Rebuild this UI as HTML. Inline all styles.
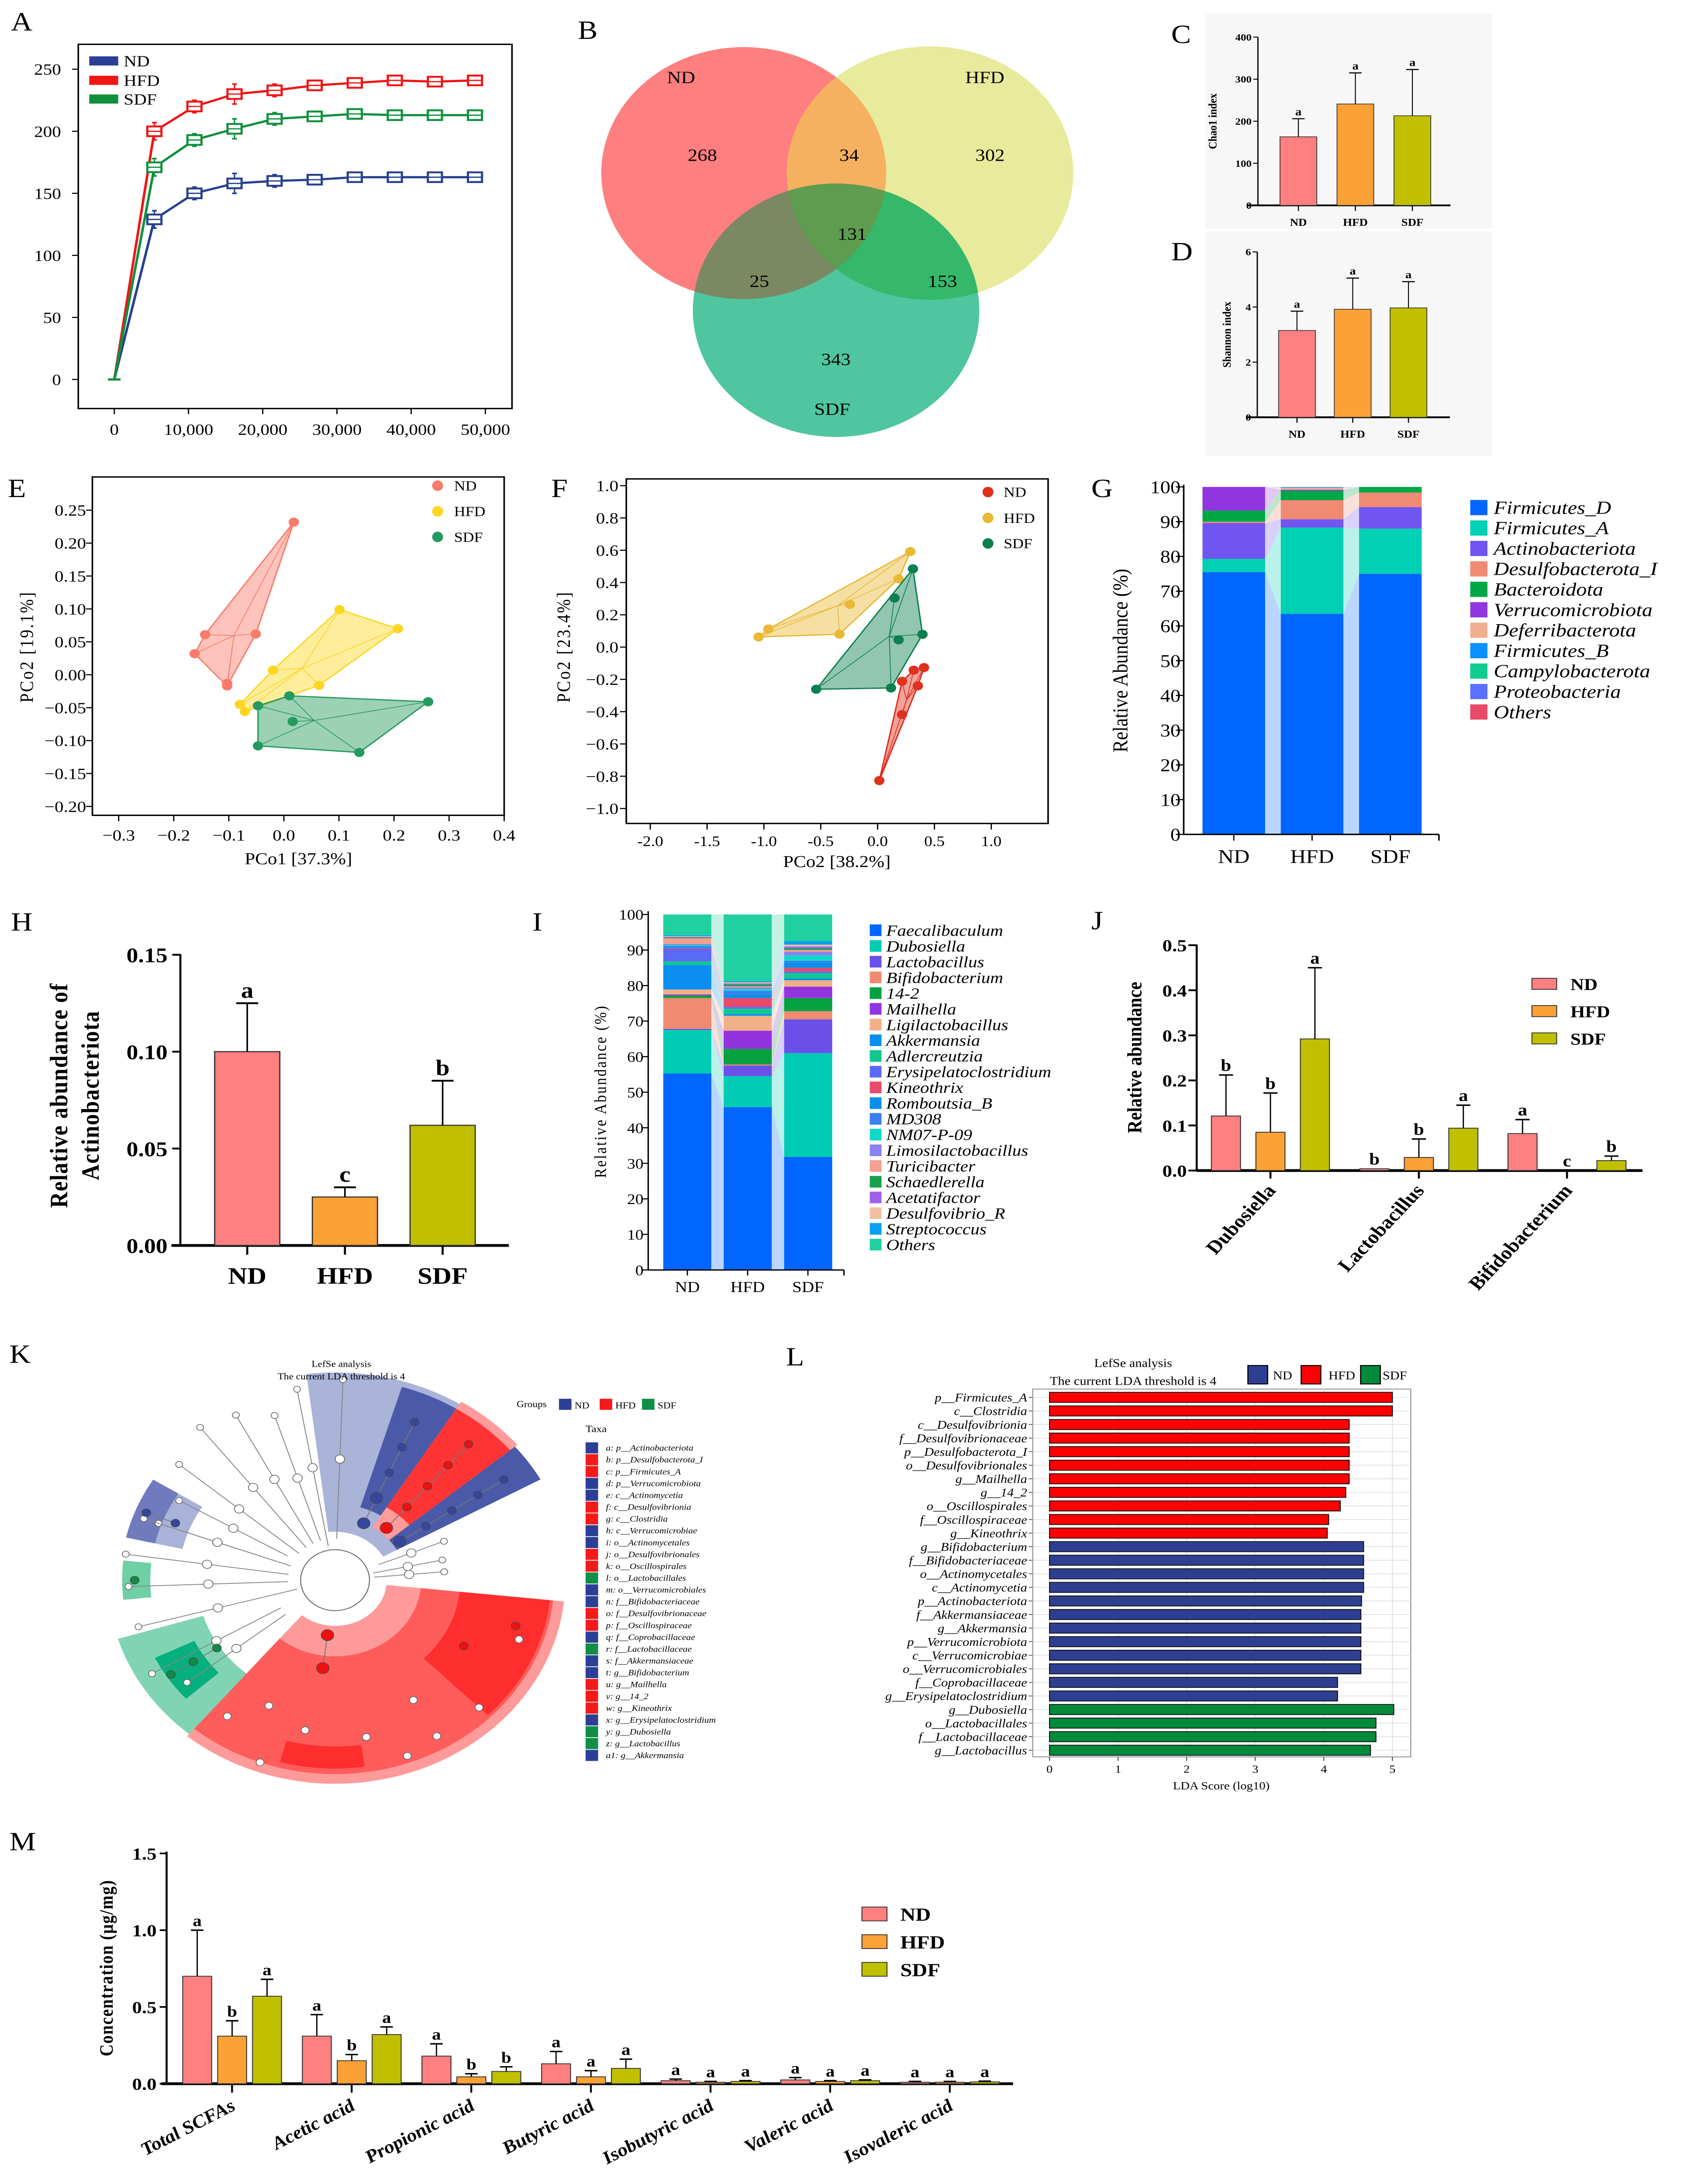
<!DOCTYPE html>
<html><head><meta charset="utf-8"><title>Figure</title>
<style>
html,body{margin:0;padding:0;background:#fff;width:100%;height:100%;overflow:hidden;}
svg{display:block;width:100vw;height:100vh;font-family:"Liberation Serif",serif;}
</style></head>
<body>
<svg id="fig" xmlns="http://www.w3.org/2000/svg" viewBox="0 0 1080 1577" preserveAspectRatio="none">
<rect x="0" y="0" width="1080" height="1577" fill="#fff"/>
<defs>
<clipPath id="cND"><circle cx="475" cy="125" r="91"/></clipPath>
<clipPath id="cHFD"><circle cx="594" cy="125" r="91.5"/></clipPath>
</defs>
</svg>
<script>
// ---------- data ----------
const aX=[0,5400,10800,16200,21600,27000,32400,37800,43200,48600];
const aND=[0,129,150,158,160,161,163,163,163,163];
const aHFD=[0,200,220,230,233,237,239,241,240,241];
const aSDF=[0,171,193,202,210,212,214,213,213,213];
const aSpread=[0,7,5,8,5,4,3,3,3,2];
const aTicksX=[0,10000,20000,30000,40000,50000];
const aTicksY=[0,50,100,150,200,250];

const vennNums=['268','34','302','131','25','153','343'];

const groups=['ND','HFD','SDF'];
const chaoVals=[163,241,213];
const chaoErr=[43,74,110];
const chaoLetters=['a','a','a'];
const chaoTicks=[0,100,200,300,400];
const shanVals=[3.15,3.92,3.97];
const shanErr=[0.7,1.13,0.95];
const shanLetters=['a','a','a'];
const shanTicks=[0,2,4,6];

const eND=[[0.018,0.232],[-0.143,0.061],[-0.051,0.062],[-0.162,0.032],[-0.103,-0.013],[-0.103,-0.017]];
const eHFD=[[0.101,0.099],[0.207,0.07],[-0.02,0.007],[0.064,-0.016],[-0.08,-0.045],[-0.071,-0.056]];
const eSDF=[[0.010,-0.032],[-0.047,-0.047],[0.016,-0.071],[0.262,-0.041],[0.137,-0.118],[-0.047,-0.108]];
const eTicksX=[-0.3,-0.2,-0.1,0.0,0.1,0.2,0.3,0.4];
const eTicksY=[0.25,0.20,0.15,0.10,0.05,0.00,-0.05,-0.10,-0.15,-0.20];

const fND=[[0.015,-0.827],[0.215,-0.418],[0.354,-0.24],[0.215,-0.212],[0.318,-0.143],[0.408,-0.127]];
const fHFD=[[0.288,0.592],[0.185,0.423],[-0.244,0.265],[-0.335,0.08],[-0.961,0.112],[-1.047,0.063]];
const fSDF=[[0.311,0.485],[0.149,0.304],[0.395,0.079],[0.185,0.045],[0.118,-0.253],[-0.54,-0.261]];
const fTicksX=[-2.0,-1.5,-1.0,-0.5,0.0,0.5,1.0];
const fTicksY=[1.0,0.8,0.6,0.4,0.2,0.0,-0.2,-0.4,-0.6,-0.8,-1.0];

const gTaxa=['Firmicutes_D','Firmicutes_A','Actinobacteriota','Desulfobacterota_I','Bacteroidota','Verrucomicrobiota','Deferribacterota','Firmicutes_B','Campylobacterota','Proteobacteria','Others'];
const gND=[75.5,3.8,10.3,0.4,3.2,6.8,0,0,0,0,0];
const gHFD=[63.5,24.8,2.4,5.5,2.7,0.3,0.5,0.1,0.1,0.05,0.05];
const gSDF=[75,13,6.2,4.2,1.6,0,0,0,0,0,0];
const gTicks=[0,10,20,30,40,50,60,70,80,90,100];

const hVals=[0.10,0.025,0.062];
const hErr=[0.025,0.005,0.023];
const hLetters=['a','c','b'];
const hTicks=[0,0.05,0.10,0.15];
const hTickLabels=['0.00','0.05','0.10','0.15'];

const iTaxa=['Faecalibaculum','Dubosiella','Lactobacillus','Bifidobacterium','14-2','Mailhella','Ligilactobacillus','Akkermansia','Adlercreutzia','Erysipelatoclostridium','Kineothrix','Romboutsia_B','MD308','NM07-P-09','Limosilactobacillus','Turicibacter','Schaedlerella','Acetatifactor','Desulfovibrio_R','Streptococcus','Others'];
const iND=[55.3,12.2,0.3,8.7,0.7,0.3,1.4,6.9,1.0,3.5,0.2,0.3,0.3,0.3,0.3,1.6,0.2,0.2,0.2,0.3,5.8];
const iHFD=[45.8,8.7,3.0,0.3,4.4,5.1,4.2,0.5,1.5,0.5,2.5,1.0,1.0,0.5,0.5,0.3,0.5,0.3,0.3,0.3,18.8];
const iSDF=[31.8,29.2,9.5,2.3,3.7,3.2,1.8,0.5,1.5,0.5,1.0,1.5,0.5,1.5,1.0,0.5,0.5,0.5,0.5,1.0,7.5];
const iTicks=[0,10,20,30,40,50,60,70,80,90,100];

const jCats=['Dubosiella','Lactobacillus','Bifidobacterium'];
const jND=[0.121,0.004,0.082];
const jHFD=[0.085,0.029,0.0];
const jSDF=[0.292,0.094,0.022];
const jErrND=[0.091,0,0.031];
const jErrHFD=[0.087,0.041,0];
const jErrSDF=[0.158,0.051,0.01];
const jLetND=['b','b','a'];
const jLetHFD=['b','b','c'];
const jLetSDF=['a','a','b'];
const jTicks=[0,0.1,0.2,0.3,0.4,0.5];

const kTaxa=['a: p__Actinobacteriota','b: p__Desulfobacterota_I','c: p__Firmicutes_A','d: p__Verrucomicrobiota','e: c__Actinomycetia','f: c__Desulfovibrionia','g: c__Clostridia','h: c__Verrucomicrobiae','i: o__Actinomycetales','j: o__Desulfovibrionales','k: o__Oscillospirales','l: o__Lactobacillales','m: o__Verrucomicrobiales','n: f__Bifidobacteriaceae','o: f__Desulfovibrionaceae','p: f__Oscillospiraceae','q: f__Coprobacillaceae','r: f__Lactobacillaceae','s: f__Akkermansiaceae','t: g__Bifidobacterium','u: g__Mailhella','v: g__14_2','w: g__Kineothrix','x: g__Erysipelatoclostridium','y: g__Dubosiella','z: g__Lactobacillus','a1: g__Akkermansia'];
const kGroup=[0,1,1,0,0,1,1,0,0,1,1,2,0,0,1,1,0,2,0,0,1,1,1,0,2,2,0];

const lLabels=['p__Firmicutes_A','c__Clostridia','c__Desulfovibrionia','f__Desulfovibrionaceae','p__Desulfobacterota_I','o__Desulfovibrionales','g__Mailhella','g__14_2','o__Oscillospirales','f__Oscillospiraceae','g__Kineothrix','g__Bifidobacterium','f__Bifidobacteriaceae','o__Actinomycetales','c__Actinomycetia','p__Actinobacteriota','f__Akkermansiaceae','g__Akkermansia','p__Verrucomicrobiota','c__Verrucomicrobiae','o__Verrucomicrobiales','f__Coprobacillaceae','g__Erysipelatoclostridium','g__Dubosiella','o__Lactobacillales','f__Lactobacillaceae','g__Lactobacillus'];
const lScores=[5.0,5.0,4.37,4.37,4.37,4.37,4.37,4.32,4.24,4.07,4.05,4.58,4.58,4.58,4.58,4.55,4.54,4.54,4.54,4.54,4.54,4.2,4.2,5.02,4.76,4.76,4.68];
const lGroup=[1,1,1,1,1,1,1,1,1,1,1,0,0,0,0,0,0,0,0,0,0,0,0,2,2,2,2];
const lTicks=[0,1,2,3,4,5];

const mCats=['Total SCFAs','Acetic acid','Propionic acid','Butyric acid','Isobutyric acid','Valeric acid','Isovaleric acid'];
const mND=[0.70,0.31,0.18,0.13,0.02,0.025,0.01];
const mHFD=[0.31,0.15,0.045,0.045,0.01,0.015,0.01];
const mSDF=[0.57,0.32,0.08,0.10,0.015,0.02,0.012];
const mErrND=[0.30,0.14,0.08,0.08,0.01,0.015,0.005];
const mErrHFD=[0.10,0.04,0.02,0.04,0.005,0.005,0.005];
const mErrSDF=[0.11,0.05,0.03,0.06,0.005,0.005,0.005];
const mLetND=['a','a','a','a','a','a','a'];
const mLetHFD=['b','b','b','a','a','a','a'];
const mLetSDF=['a','a','b','a','a','a','a'];
const mTicks=[0,0.5,1.0,1.5];
const mTickLabels=['0.0','0.5','1.0','1.5'];

// ---------- helpers ----------
const NS='http://www.w3.org/2000/svg';
const svg=document.getElementById('fig');
function mk(tag,attrs,name,parent){
  const el=document.createElementNS(NS,tag);
  for(const k in attrs) el.setAttribute(k,attrs[k]);
  
  
  (parent||svg).appendChild(el);
  return el;
}
function txt(x,y,s,size,opts,name,parent){
  const o=Object.assign({x:x,y:y,'font-size':size},opts||{});
  const t=mk('text',o,name,parent);
  t.textContent=s;
  return t;
}
function line(x1,y1,x2,y2,stroke,w,name,parent){
  return mk('line',{x1,y1,x2,y2,stroke:stroke,'stroke-width':w},name,parent);
}
function errBar(x,yTop,yVal,cap,name,w){
  line(x,yVal,x,yTop,'#000',w||0.8,name);
  line(x-cap,yTop,x+cap,yTop,'#000',(w||0.8)*1.3,name+'-cap');
}
function panelLetter(x,y,s,size){txt(x,y,s,size||19,{},'panel-label-'+s.toLowerCase());}
const barCols=['#fe8080','#fca135','#c0c000'];

// ---------- Panel A ----------
panelLetter(7,22,'A');
(function(){
  const ax=v=>73+v*(310-73)/50000, ay=v=>274-v*0.896;
  mk('rect',{x:50,y:32,width:277,height:263,fill:'none',stroke:'#000','stroke-width':1},'rarefaction-frame');
  aTicksX.forEach(t=>{line(ax(t),295,ax(t),299,'#000',0.8,'x-tick');
    txt(ax(t),314,t===0?'0':t.toLocaleString('en-US'),11.5,{'text-anchor':'middle'},'x-tick-label');});
  aTicksY.forEach(t=>{line(46,ay(t),50,ay(t),'#000',0.8,'y-tick');
    txt(39,ay(t)+4,String(t),11.5,{'text-anchor':'end'},'y-tick-label');});
  const series=[[aND,'#27408f','nd'],[aHFD,'#f01515','hfd'],[aSDF,'#10903c','sdf']];
  series.forEach(([vals,col,nm])=>{
    const pts=aX.map((x,i)=>ax(x)+','+ay(vals[i])).join(' ');
    mk('polyline',{points:pts,fill:'none',stroke:col,'stroke-width':1.6},'rarefaction-line-'+nm);
    aX.forEach((x,i)=>{ if(i===0){line(ax(x)-4,ay(0),ax(x)+4,ay(0),col,1.5,'start-mark-'+nm);return;}
      const cx=ax(x), cy=ay(vals[i]), s=aSpread[i];
      line(cx,cy-s*0.896,cx,cy+s*0.896,col,0.9,'whisker-'+nm);
      line(cx-1.5,cy-s*0.896,cx+1.5,cy-s*0.896,col,1.2,'whisker-cap-'+nm);
      line(cx-1.5,cy+s*0.896,cx+1.5,cy+s*0.896,col,1.2,'whisker-cap-'+nm);
      mk('rect',{x:cx-4.5,y:cy-3.5,width:9,height:7,fill:'#fff',stroke:col,'stroke-width':1.4},'box-'+nm);
      line(cx-4.5,cy,cx+4.5,cy,col,0.9,'median-'+nm);
    });
  });
  [['ND','#2a3f95',44],['HFD','#f01515',58],['SDF','#10903c',71.5]].forEach(([n,c,y])=>{
    mk('rect',{x:57,y:y-3.3,width:18.5,height:6.6,fill:c},'legend-swatch-'+n.toLowerCase());
    txt(79,y+4,n,11.5,{},'legend-label-'+n.toLowerCase());
  });
})();

// ---------- Panel B (Venn) ----------
panelLetter(369,28,'B');
(function(){
  mk('circle',{cx:475,cy:125,r:91,fill:'#fe7f7f'},'venn-nd');
  mk('circle',{cx:594,cy:125,r:91.5,fill:'#e8ea9c'},'venn-hfd');
  mk('circle',{cx:534,cy:224,r:91.5,fill:'#4fc6a0'},'venn-sdf');
  const g1=mk('g',{'clip-path':'url(#cND)'},'venn-nd-hfd');
  mk('circle',{cx:594,cy:125,r:91.5,fill:'#f5b060'},'venn-nd-hfd-region',g1);
  const g2=mk('g',{'clip-path':'url(#cND)'},'venn-nd-sdf');
  mk('circle',{cx:534,cy:224,r:91.5,fill:'#7b8862'},'venn-nd-sdf-region',g2);
  const g3=mk('g',{'clip-path':'url(#cHFD)'},'venn-hfd-sdf');
  mk('circle',{cx:534,cy:224,r:91.5,fill:'#35b86a'},'venn-hfd-sdf-region',g3);
  const g4=mk('g',{'clip-path':'url(#cND)'},'venn-all');
  const g5=mk('g',{'clip-path':'url(#cHFD)'},'venn-all-inner',g4);
  mk('circle',{cx:534,cy:224,r:91.5,fill:'#5e9c50'},'venn-all-region',g5);
  txt(435,60,'ND',12.5,{'text-anchor':'middle'},'venn-label-nd');
  txt(629,60,'HFD',12.5,{'text-anchor':'middle'},'venn-label-hfd');
  txt(531.5,299.5,'SDF',12.5,{'text-anchor':'middle'},'venn-label-sdf');
  const pos=[[448.6,116],[542.3,116],[632.3,116],[544.2,173],[485,207],[601.9,207],[533.9,263.5]];
  vennNums.forEach((n,i)=>txt(pos[i][0],pos[i][1],n,12.5,{'text-anchor':'middle'},'venn-count'));
})();

// ---------- Panels C & D ----------
function smallBar(letter,bg,axX,y0,yTop,maxV,ticks,vals,errs,lets,title,b0,bstep,titleX,labY){
  mk('rect',{x:bg[0],y:bg[1],width:bg[2],height:bg[3],fill:'#f7f7f7'},'panel-'+letter.toLowerCase()+'-bg');
  panelLetter(748,bg[1]+21,letter);
  const sy=v=>y0-v*(y0-yTop)/maxV;
  line(axX,yTop,axX,y0,'#000',0.8,'y-axis');
  line(axX-7,y0,axX+123,y0,'#000',1.3,'x-axis');
  ticks.forEach(t=>{line(axX-3,sy(t),axX,sy(t),'#000',0.7,'y-tick');
    txt(axX-4,sy(t)+2.5,String(t),7,{'text-anchor':'end','font-weight':'bold'},'y-tick-label');});
  vals.forEach((v,i)=>{const x=b0+i*bstep;
    mk('rect',{x:x,y:sy(v),width:23.5,height:y0-sy(v),fill:barCols[i],stroke:'#333','stroke-width':0.5},'bar-'+groups[i].toLowerCase());
    errBar(x+11.75,sy(v+errs[i]),sy(v),4,'error-bar',0.6);
    txt(x+11.75,sy(v+errs[i])-2.5,lets[i],8,{'text-anchor':'middle','font-weight':'bold'},'significance-letter');
    line(x+11.75,y0,x+11.75,y0+4,'#000',0.7,'x-tick');
    txt(x+11.75,labY,groups[i],7.5,{'text-anchor':'middle','font-weight':'bold'},'x-label-'+groups[i].toLowerCase());
  });
  txt(0,0,title,7.5,{'text-anchor':'middle','font-weight':'bold',transform:`translate(${titleX},${(y0+yTop)/2}) rotate(-90)`},'y-axis-title');
}
smallBar('C',[770,10,183,155],803.4,148.3,26.8,400,chaoTicks,chaoVals,chaoErr,chaoLetters,'Chao1 index',817.5,36.4,777,163);
smallBar('D',[770,167,183,162],803,301.3,181.9,6,shanTicks,shanVals,shanErr,shanLetters,'Shannon index',816.6,35.6,786,316);

// ---------- PCoA helper ----------
function hull(pts){
  const p=pts.slice().sort((a,b)=>a[0]-b[0]||a[1]-b[1]);
  const cr=(o,a,b)=>(a[0]-o[0])*(b[1]-o[1])-(a[1]-o[1])*(b[0]-o[0]);
  const lo=[],up=[];
  p.forEach(q=>{while(lo.length>=2&&cr(lo[lo.length-2],lo[lo.length-1],q)<=0)lo.pop();lo.push(q);});
  p.slice().reverse().forEach(q=>{while(up.length>=2&&cr(up[up.length-2],up[up.length-1],q)<=0)up.pop();up.push(q);});
  return lo.slice(0,-1).concat(up.slice(0,-1));
}
function pcoaGroup(data,sx,sy,col,nm){
  const px=data.map(d=>[sx(d[0]),sy(d[1])]);
  const h=hull(px);
  mk('polygon',{points:h.map(p=>p.join(',')).join(' '),fill:col,'fill-opacity':0.45,stroke:col,'stroke-width':0.9},'hull-'+nm);
  const cx=px.reduce((s,p)=>s+p[0],0)/px.length, cy=px.reduce((s,p)=>s+p[1],0)/px.length;
  px.forEach(p=>line(cx,cy,p[0],p[1],col,0.5,'spider-'+nm));
  px.forEach(p=>mk('circle',{cx:p[0],cy:p[1],r:3.3,fill:col},'point-'+nm));
}
function fmt(t,d){const s=Math.abs(t).toFixed(d);return (t<-1e-9?'\u2212':'')+s;}

// ---------- Panel E ----------
panelLetter(5,359,'E');
(function(){
  const sx=v=>75.8+(v+0.3)*351.7, sy=v=>368.4+(0.25-v)*475.3;
  mk('rect',{x:59,y:344.4,width:263,height:244.3,fill:'none',stroke:'#000','stroke-width':1},'pcoa-e-frame');
  eTicksX.forEach(t=>{line(sx(t),588.7,sx(t),593,'#000',0.8,'x-tick');
    txt(sx(t),607,fmt(t,1),11.5,{'text-anchor':'middle'},'x-tick-label');});
  eTicksY.forEach(t=>{line(55,sy(t),59,sy(t),'#000',0.8,'y-tick');
    txt(55,sy(t)+4,fmt(t,2),11.5,{'text-anchor':'end'},'y-tick-label');});
  pcoaGroup(eND,sx,sy,'#fa7b6b','nd');
  pcoaGroup(eHFD,sx,sy,'#fcd620','hfd');
  pcoaGroup(eSDF,sx,sy,'#249a5e','sdf');
  txt(190.6,624,'PCo1 [37.3%]',12,{'text-anchor':'middle'},'x-axis-title');
  txt(0,0,'PCo2 [19.1%]',12,{'text-anchor':'middle','letter-spacing':'1',transform:'translate(21,467) rotate(-90)'},'y-axis-title');
  [['ND','#fa7b6b',350.7],['HFD','#fcd620',369.2],['SDF','#249a5e',387.7]].forEach(([n,c,y])=>{
    mk('ellipse',{cx:279.5,cy:y,rx:3.5,ry:3.8,fill:c},'legend-dot-'+n.toLowerCase());
    txt(290,y+3.5,n,10,{},'legend-label-'+n.toLowerCase());});
})();

// ---------- Panel F ----------
panelLetter(352,359,'F');
(function(){
  const sx=v=>415.3+(v+2)*72.6, sy=v=>350.7+(1-v)*116.55;
  mk('rect',{x:400,y:345.8,width:269.4,height:248.8,fill:'none',stroke:'#000','stroke-width':1},'pcoa-f-frame');
  fTicksX.forEach(t=>{line(sx(t),594.6,sx(t),599,'#000',0.8,'x-tick');
    txt(sx(t),611,t.toFixed(1),10.5,{'text-anchor':'middle'},'x-tick-label');});
  fTicksY.forEach(t=>{line(396,sy(t),400,sy(t),'#000',0.8,'y-tick');
    txt(395,sy(t)+4,fmt(t,1),11.5,{'text-anchor':'end'},'y-tick-label');});
  pcoaGroup(fHFD,sx,sy,'#e9b834','hfd');
  pcoaGroup(fSDF,sx,sy,'#0d8050','sdf');
  pcoaGroup(fND,sx,sy,'#e0301e','nd');
  txt(534.5,626,'PCo2 [38.2%]',12,{'text-anchor':'middle'},'x-axis-title');
  txt(0,0,'PCo2 [23.4%]',12,{'text-anchor':'middle','letter-spacing':'1',transform:'translate(364,467) rotate(-90)'},'y-axis-title');
  [['ND','#e0301e',355.3],['HFD','#e9b834',374],['SDF','#0d8050',392.4]].forEach(([n,c,y])=>{
    mk('ellipse',{cx:631,cy:y,rx:3.5,ry:3.8,fill:c},'legend-dot-'+n.toLowerCase());
    txt(641,y+3.5,n,10,{},'legend-label-'+n.toLowerCase());});
})();

// ---------- stacked helper ----------
function stacked(series,cols,xs,bw,y0,y100,nm){
  const sy=v=>y0-v*(y0-y100)/100;
  const cum=series.map(s=>{let c=0;return s.map(v=>{const r=[c,c+v];c+=v;return r;});});
  for(let b=0;b<series.length-1;b++){
    cols.forEach((col,k)=>{
      const a=cum[b][k], c=cum[b+1][k];
      const x1=xs[b]+bw, x2=xs[b+1];
      mk('polygon',{points:`${x1},${sy(a[0])} ${x1},${sy(a[1])} ${x2},${sy(c[1])} ${x2},${sy(c[0])}`,fill:col,'fill-opacity':0.27},nm+'-flow');
    });
  }
  series.forEach((s,b)=>{cols.forEach((col,k)=>{
    const c=cum[b][k]; if(c[1]-c[0]<=0)return;
    mk('rect',{x:xs[b],y:sy(c[1]),width:bw,height:sy(c[0])-sy(c[1]),fill:col},nm+'-segment');
  });});
  return sy;
}

// ---------- Panel G ----------
panelLetter(697,359,'G');
(function(){
  const cols=['#0066ff','#00d0b4','#7055f0','#f08a72','#00a845','#9035e0','#f0b090','#0a90ff','#10cc90','#5a70ff','#e84a6a'];
  const sy=stacked([gND,gHFD,gSDF],cols,[768,818,868],40,602.5,351.6,'phylum');
  line(756,350,756,602.5,'#000',1,'y-axis');
  line(756,602.5,919,602.5,'#000',1,'x-axis');
  line(919,602.5,919,607,'#000',1,'x-axis-end');
  gTicks.forEach(t=>{line(751,sy(t),756,sy(t),'#000',0.8,'y-tick');
    txt(754,sy(t)+4.5,String(t),13,{'text-anchor':'end'},'y-tick-label');});
  groups.forEach((g,i)=>{line(788+i*50,602.5,788+i*50,607,'#000',0.8,'x-tick');
    txt(788+i*50,623,g,14,{'text-anchor':'middle'},'x-label-'+g.toLowerCase());});
  txt(0,0,'Relative Abundance (%)',13.5,{'text-anchor':'middle',transform:'translate(720,477) rotate(-90)'},'y-axis-title');
  gTaxa.forEach((t,i)=>{const y=366.5+i*14.76;
    mk('rect',{x:939,y:y-5.5,width:11,height:11,fill:cols[i]},'legend-swatch');
    txt(954,y+4.5,t,13.5,{'font-style':'italic'},'legend-label');});
})();

// ---------- Panel H ----------
panelLetter(7,672,'H');
(function(){
  const y0=899.3, sy=v=>y0-v*(899.3-689.4)/0.15;
  line(115.2,689,115.2,899.3,'#000',1.3,'y-axis');
  line(109.5,899.3,325,899.3,'#000',2,'x-axis');
  hTicks.forEach((t,i)=>{line(110,sy(t),115.2,sy(t),'#000',1.3,'y-tick');
    txt(107,sy(t)+5.5,hTickLabels[i],15,{'text-anchor':'end','font-weight':'bold'},'y-tick-label');});
  hVals.forEach((v,i)=>{const x=137.1+i*62.4;
    mk('rect',{x:x,y:sy(v),width:41.6,height:y0-sy(v),fill:barCols[i],stroke:'#333','stroke-width':0.8},'bar-'+groups[i].toLowerCase());
    errBar(x+20.8,sy(v+hErr[i]),sy(v),7,'error-bar',1);
    txt(x+20.8,sy(v+hErr[i])-4,hLetters[i],16,{'text-anchor':'middle','font-weight':'bold'},'significance-letter');
    line(x+20.8,899.3,x+20.8,906,'#000',1.3,'x-tick');
    txt(x+20.8,927,groups[i],17,{'text-anchor':'middle','font-weight':'bold'},'x-label-'+groups[i].toLowerCase());
  });
  txt(0,0,'Relative abundance of',16,{'text-anchor':'middle','font-weight':'bold','letter-spacing':'0.5',transform:'translate(43,791) rotate(-90)'},'y-axis-title-line1');
  txt(0,0,'Actinobacteriota',16,{'text-anchor':'middle','font-weight':'bold','letter-spacing':'0.5',transform:'translate(63,791) rotate(-90)'},'y-axis-title-line2');
})();

// ---------- Panel I ----------
panelLetter(340,672,'I');
(function(){
  const cols=['#0066ff','#00ccb4','#6a50e8','#f08a70','#05a040','#9333e0','#f2b088','#0a8ff0','#10c890','#5a6af5','#e84a6a','#0a90e8','#3a80f0','#10d8c8','#8a80f0','#f5a090','#18a050','#a060e8','#f0c0a0','#0aa0f0','#20d0a0'];
  const sy=stacked([iND,iHFD,iSDF],cols,[423.6,462.2,500.8],30.7,917,660.3,'genus');
  line(414,658,414,917,'#000',0.9,'y-axis');
  line(414,917,539,917,'#000',0.9,'x-axis');
  line(539,917,539,921,'#000',0.9,'x-axis-end');
  iTicks.forEach(t=>{line(410,sy(t),414,sy(t),'#000',0.8,'y-tick');
    txt(411,sy(t)+3.8,String(t),10.5,{'text-anchor':'end'},'y-tick-label');});
  groups.forEach((g,i)=>{const cx=[439,477.5,516][i];
    line(cx,917,cx,921,'#000',0.8,'x-tick');
    txt(cx,933,g,11,{'text-anchor':'middle'},'x-label-'+g.toLowerCase());});
  txt(0,0,'Relative Abundance (%)',10.5,{'text-anchor':'middle','letter-spacing':'1',transform:'translate(387,788) rotate(-90)'},'y-axis-title');
  iTaxa.forEach((t,i)=>{const y=671.7+i*11.35;
    mk('rect',{x:555.5,y:y-4.2,width:7.5,height:8.4,fill:cols[i]},'legend-swatch');
    txt(566,y+4,t,11.5,{'font-style':'italic'},'legend-label');});
})();

// ---------- Panel J ----------
panelLetter(697,671,'J');
(function(){
  const y0=845.2, sy=v=>y0-v*(845.2-682.5)/0.5;
  line(764.3,682,764.3,845.2,'#000',1.3,'y-axis');
  line(764.3,845.2,1049,845.2,'#000',2,'x-axis');
  jTicks.forEach(t=>{line(759,sy(t),764.3,sy(t),'#000',1.3,'y-tick');
    txt(758,sy(t)+4.5,t===0?'0.0':String(t),12.5,{'text-anchor':'end','font-weight':'bold'},'y-tick-label');});
  const sets=[[jND,jErrND,jLetND],[jHFD,jErrHFD,jLetHFD],[jSDF,jErrSDF,jLetSDF]];
  const gx=[773.7,868.5,963.1];
  jCats.forEach((c,ci)=>{
    sets.forEach(([vals,errs,lets],gi)=>{
      const x=gx[ci]+gi*28.4, v=vals[ci];
      if(v>0) mk('rect',{x:x,y:sy(v),width:18.6,height:y0-sy(v),fill:barCols[gi],stroke:'#333','stroke-width':0.6},'bar-'+groups[gi].toLowerCase());
      if(errs[ci]>0) errBar(x+9.3,sy(v+errs[ci]),sy(v),4.5,'error-bar',0.8);
      txt(x+9.3,sy(v+errs[ci])-3,lets[ci],12,{'text-anchor':'middle','font-weight':'bold'},'significance-letter');
    });
    const cx=gx[ci]+37.7;
    line(cx,845.2,cx,851,'#000',1.3,'x-tick');
    txt(0,0,c,13.5,{'text-anchor':'end','font-weight':'bold',transform:`translate(${cx+4},${860}) rotate(-50)`},'x-label');
  });
  txt(0,0,'Relative abundance',13,{'text-anchor':'middle','font-weight':'bold',transform:'translate(729,763.6) rotate(-90)'},'y-axis-title');
  [['ND',710.4],['HFD',730.1],['SDF',749.8]].forEach(([n,y],i)=>{
    mk('rect',{x:978.4,y:y-4,width:15.8,height:8,fill:barCols[i],stroke:'#333','stroke-width':0.6},'legend-swatch-'+n.toLowerCase());
    txt(1003,y+4.5,n,12,{'font-weight':'bold'},'legend-label-'+n.toLowerCase());});
})();

// ---------- Panel K (cladogram) ----------
panelLetter(6,984,'K');
(function(){
  const cx=214, cy=1141;
  function sector(r0,r1,a0,a1,fill,nm){
    const rad=a=>a*Math.PI/180;
    const p=(r,a)=>[cx+r*Math.cos(rad(a)),cy+r*Math.sin(rad(a))];
    const [x1,y1]=p(r1,a0),[x2,y2]=p(r1,a1),[x3,y3]=p(r0,a1),[x4,y4]=p(r0,a0);
    const lg=(a1-a0)>180?1:0;
    mk('path',{d:`M${x1},${y1} A${r1},${r1} 0 ${lg} 1 ${x2},${y2} L${x3},${y3} A${r0},${r0} 0 ${lg} 0 ${x4},${y4} Z`,fill:fill},nm);
  }
  sector(35,150,-97,-29,'#aab3d8','clade-nd-sector');
  sector(55,146,-73,-58,'#4b5aa8','clade-bifido-strip');
  sector(45,152,-58,-40,'#ff9b9b','clade-desulfo-light');
  sector(62,146,-58,-40,'#ff3535','clade-desulfo-strip');
  sector(45,150,-40,-29,'#4b5aa8','clade-verruco-strip');
  sector(33,147,6,130,'#ff9a9a','clade-hfd-outer');
  sector(55,140,6,130,'#ff5c5c','clade-hfd-main');
  sector(80,138,6,45,'#ff2e2e','clade-oscillo');
  sector(120,136,82,105,'#ff2e2e','clade-kineothrix');
  sector(88,145,130,163,'#80d4b3','clade-sdf-sector');
  sector(100,128,138,154,'#05b07e','clade-lacto');
  sector(118,136,174,186,'#6fcfa5','clade-dubosiella');
  sector(100,137,193,212,'#a9b2d9','clade-copro');
  sector(118,137,193,212,'#6f7bbd','clade-erysipelato');
  mk('circle',{cx:cx,cy:cy,r:22,fill:'#fff',stroke:'#777','stroke-width':0.7},'clade-root');
  const branches=[[-160,40,120],[-150,35,115],[-140,30,130],[-128,30,140],[-118,30,135],[-108,30,125],[-100,25,140],[-88,30,145],[-22,30,75],[-12,25,70],[-5,25,70],[165,25,130],[178,30,132],[188,30,135],[200,30,130],[150,40,135],[142,40,120]];
  branches.forEach(([a,r0,r1])=>{const ra=a*Math.PI/180;
    line(cx+r0*Math.cos(ra),cy+r0*Math.sin(ra),cx+r1*Math.cos(ra),cy+r1*Math.sin(ra),'#888',0.6,'clade-branch');
    mk('circle',{cx:cx+r1*Math.cos(ra),cy:cy+r1*Math.sin(ra),r:2.2,fill:'#fff',stroke:'#666','stroke-width':0.5},'clade-node');
    mk('circle',{cx:cx+(r0+r1)/2*Math.cos(ra),cy:cy+(r0+r1)/2*Math.sin(ra),r:3,fill:'#fff',stroke:'#666','stroke-width':0.5},'clade-node');
  });
  const colNodes=[[-66,[45,65,85,105,125],'#34479c'],[-49,[50,70,90,110,130],'#ee1111'],[-34,[50,70,90,110,130],'#34479c'],[97,[40,64],'#ee1111'],[30,[95],'#ee1111'],[16,[120],'#ee1111'],[147,[90,108,125],'#138a45'],[180,[128],'#138a45'],[202,[110,130],'#34479c']];
  colNodes.forEach(([a,rs,c])=>{const ra=a*Math.PI/180;
    line(cx+rs[0]*Math.cos(ra),cy+rs[0]*Math.sin(ra),cx+rs[rs.length-1]*Math.cos(ra),cy+rs[rs.length-1]*Math.sin(ra),'#777',0.6,'clade-branch');
    rs.forEach(r=>mk('circle',{cx:cx+r*Math.cos(ra),cy:cy+r*Math.sin(ra),r:r<70?4:2.8,fill:c,stroke:'#444','stroke-width':0.4},'clade-node-colored'));
  });
  [[100,110],[110,140],[60,130],[125,120],[80,115],[115,100],[60,100],[45,130],[20,125],[70,135]].forEach(([a,r])=>{const ra=a*Math.PI/180;
    mk('circle',{cx:cx+r*Math.cos(ra),cy:cy+r*Math.sin(ra),r:2.5,fill:'#fff',stroke:'#666','stroke-width':0.5},'clade-node');});
  txt(218,987,'LefSe analysis',6.5,{'text-anchor':'middle'},'cladogram-title');
  txt(218,996,'The current LDA threshold is 4',6.5,{'text-anchor':'middle'},'cladogram-subtitle');
  txt(330,1016,'Groups',6.5,{},'groups-legend-title');
  const gcol=['#2b3f96','#f41a1a','#0f8f45'];
  [['ND',357],['HFD',383],['SDF',410]].forEach(([n,x],i)=>{
    mk('rect',{x:x,y:1010,width:8,height:8,fill:gcol[i]},'groups-swatch-'+n.toLowerCase());
    txt(x+10,1017,n,6.5,{},'groups-label-'+n.toLowerCase());});
  txt(374,1034,'Taxa',7,{},'taxa-legend-title');
  kTaxa.forEach((t,i)=>{const y=1045+i*8.54;
    mk('rect',{x:374,y:y-3.5,width:8,height:8,fill:gcol[kGroup[i]]},'taxa-swatch');
    txt(387,y+2.5,t,6,{'font-style':'italic'},'taxa-label');});
})();

// ---------- Panel L ----------
panelLetter(502,986,'L');
(function(){
  const x0=670.3, sx=v=>x0+v*43.8, top=1009, step=9.8;
  const gcol=['#2e3f92','#ff0000','#008a3a'];
  mk('rect',{x:659.6,y:1003,width:241.4,height:265.6,fill:'#fff',stroke:'#999','stroke-width':0.7},'lda-frame');
  lTicks.forEach(t=>line(sx(t),1003,sx(t),1268.6,'#ddd',0.5,'lda-vgrid'));
  lLabels.forEach((l,i)=>{const y=top+i*step;
    line(659.6,y,901,y,'#ddd',0.5,'lda-gridline');
    mk('rect',{x:x0,y:y-3.65,width:sx(lScores[i])-x0,height:7.3,fill:gcol[lGroup[i]],stroke:'#111','stroke-width':0.6},'lda-bar');
    line(657,y,659.6,y,'#444',0.5,'lda-label-tick');
    txt(656,y+3,l,8.5,{'text-anchor':'end','font-style':'italic'},'lda-label');
  });
  lTicks.forEach(t=>{line(sx(t),1268.6,sx(t),1271.5,'#444',0.6,'x-tick');
    txt(sx(t),1280,String(t),8,{'text-anchor':'middle'},'x-tick-label');});
  txt(780,1292,'LDA Score (log10)',8,{'text-anchor':'middle'},'x-axis-title');
  txt(723.7,987,'LefSe analysis',8.5,{'text-anchor':'middle'},'lda-title');
  txt(723.7,1000,'The current LDA threshold is 4',8.5,{'text-anchor':'middle'},'lda-subtitle');
  [['ND',797,813],['HFD',831,848.5],['SDF',869,883]].forEach(([n,x,tx],i)=>{
    mk('rect',{x:x,y:986,width:12.6,height:13.3,fill:gcol[i],stroke:'#000','stroke-width':0.7},'lda-legend-swatch-'+n.toLowerCase());
    txt(tx,996,n,8.5,{},'lda-legend-label-'+n.toLowerCase());});
})();

// ---------- Panel M ----------
panelLetter(6,1336,'M');
(function(){
  const y0=1504.6, sy=v=>y0-v*(1504.6-1338.3)/1.5;
  line(106.4,1337,106.4,1504.6,'#000',1.3,'y-axis');
  line(103,1504.6,647,1504.6,'#000',2,'x-axis');
  mTicks.forEach((t,i)=>{line(102,sy(t),106.4,sy(t),'#000',1.2,'y-tick');
    txt(100,sy(t)+4.5,mTickLabels[i],12.5,{'text-anchor':'end','font-weight':'bold'},'y-tick-label');});
  const sets=[[mND,mErrND,mLetND],[mHFD,mErrHFD,mLetHFD],[mSDF,mErrSDF,mLetSDF]];
  mCats.forEach((c,ci)=>{
    const gx=116.7+ci*76.4;
    sets.forEach(([vals,errs,lets],gi)=>{
      const x=gx+gi*22.3, v=vals[ci];
      mk('rect',{x:x,y:sy(v),width:18.5,height:y0-sy(v),fill:barCols[gi],stroke:'#333','stroke-width':0.6},'bar-'+groups[gi].toLowerCase());
      errBar(x+9.25,sy(v+errs[ci]),sy(v),4,'error-bar',0.8);
      txt(x+9.25,sy(v+errs[ci])-3,lets[ci],11.5,{'text-anchor':'middle','font-weight':'bold'},'significance-letter');
    });
    const tx=gx+31.5;
    line(tx,1504.6,tx,1511,'#000',1.2,'x-tick');
    txt(0,0,c,13,{'text-anchor':'end','font-weight':'bold','font-style':'italic',transform:`translate(${tx+3},${1523}) rotate(-30)`},'x-label');
  });
  txt(0,0,'Concentration (\u03bcg/mg)',12,{'text-anchor':'middle','font-weight':'bold','letter-spacing':'0.5',transform:'translate(72,1421) rotate(-90)'},'y-axis-title');
  [['ND',1382],['HFD',1402],['SDF',1422]].forEach(([n,y],i)=>{
    mk('rect',{x:550.5,y:y-5,width:16,height:10,fill:barCols[i],stroke:'#333','stroke-width':0.6},'legend-swatch-'+n.toLowerCase());
    txt(575,y+5,n,13.5,{'font-weight':'bold'},'legend-label-'+n.toLowerCase());});
})();
</script>
</body></html>
